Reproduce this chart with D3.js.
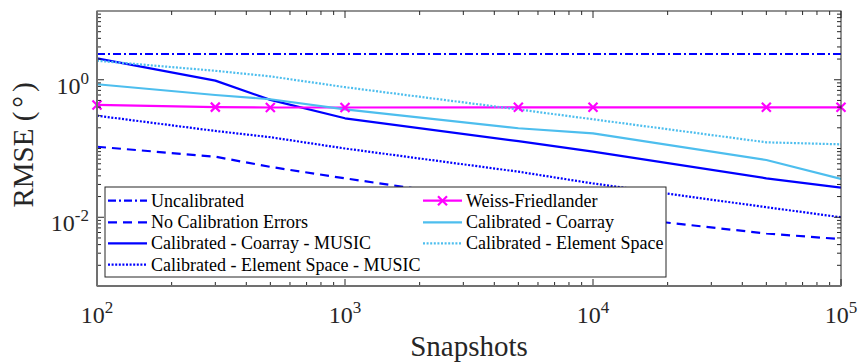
<!DOCTYPE html>
<html>
<head>
<meta charset="utf-8">
<script src="https://cdn.jsdelivr.net/npm/d3@7"></script>
<style>
  html, body { margin: 0; padding: 0; background: #fff; }
  svg { display: block; }
  svg text { font-family: 'Liberation Serif', 'DejaVu Serif', serif; }
</style>
</head>
<body>
<svg id="chart" width="861" height="362"></svg>
<script>
// ---------------- data ----------------
const snapshots = [100, 300, 500, 1000, 5000, 10000, 50000, 100000];
const uncalibrated        = [2.37, 2.37, 2.37, 2.37, 2.37, 2.37, 2.37, 2.37];
const noCalibrationErrors = [0.106, 0.076, 0.054, 0.0368, 0.0158, 0.011, 0.0058, 0.0048];
const coarrayMusic        = [2.05, 0.97, 0.51, 0.275, 0.128, 0.09, 0.0368, 0.027];
const elementSpaceMusic   = [0.30, 0.18, 0.146, 0.10, 0.046, 0.031, 0.014, 0.010];
const weissFriedlander    = [0.43, 0.40, 0.395, 0.395, 0.397, 0.397, 0.397, 0.397];
const calibratedCoarray   = [0.86, 0.60, 0.52, 0.37, 0.197, 0.166, 0.068, 0.036];
const calibratedElement   = [1.89, 1.35, 1.12, 0.78, 0.37, 0.266, 0.123, 0.115];

const xTickValues = [100, 1000, 10000, 100000];
const xTickExps   = ["2", "3", "4", "5"];
const yTickValues = [0.01, 1];
const yTickExps   = ["-2", "0"];

const seriesNames = [
  "Uncalibrated", "No Calibration Errors", "Calibrated - Coarray - MUSIC",
  "Calibrated - Element Space - MUSIC", "Weiss-Friedlander",
  "Calibrated - Coarray", "Calibrated - Element Space"
];
const seriesValues = [uncalibrated, noCalibrationErrors, coarrayMusic, elementSpaceMusic,
                      weissFriedlander, calibratedCoarray, calibratedElement];

// ---------------- styles ----------------
const BLUE = "#0000ff", MAG = "#ff00ff", CYAN = "#4dbeee";
const FONT = "'Liberation Serif', 'DejaVu Serif', serif";
const styles = [
  { color: BLUE, dash: "8,3,2,3", width: 2.2 },
  { color: BLUE, dash: "9,6", width: 2.2 },
  { color: BLUE, dash: null, width: 2.2 },
  { color: BLUE, dash: "2,1.6", width: 2.2 },
  { color: MAG, dash: null, width: 2.2, marker: true },
  { color: CYAN, dash: null, width: 2.2 },
  { color: CYAN, dash: "2,1.6", width: 2.2 }
];

// ---------------- layout ----------------
const L = 97, R = 841, T = 11, B = 286;
const svg = d3.select("#chart").attr("font-family", FONT);
const x = d3.scaleLog().domain([100, 100000]).range([L, R]);
const y = d3.scaleLog().domain([0.001, 10]).range([B, T]);

svg.append("defs").append("clipPath").attr("id", "clip")
  .append("rect").attr("x", L).attr("y", T).attr("width", R - L).attr("height", B - T);

// ---------------- series ----------------
const line = d3.line().x(d => x(d[0])).y(d => y(d[1]));
const g = svg.append("g").attr("clip-path", "url(#clip)");
const xMark = (cx, cy, s) => `M${cx - s},${cy - s}L${cx + s},${cy + s}M${cx - s},${cy + s}L${cx + s},${cy - s}`;

seriesValues.forEach((vals, i) => {
  const st = styles[i];
  const pts = snapshots.map((s, j) => [s, vals[j]]);
  g.append("path").attr("d", line(pts))
    .attr("fill", "none").attr("stroke", st.color).attr("stroke-width", st.width)
    .attr("stroke-dasharray", st.dash).attr("stroke-linejoin", "round");
  if (st.marker) {
    pts.forEach(p => {
      svg.append("path").attr("d", xMark(x(p[0]), y(p[1]), 4.5))
        .attr("stroke", st.color).attr("stroke-width", 2.2).attr("fill", "none");
    });
  }
});

// ---------------- axes box & ticks ----------------
const axisG = svg.append("g");
const AX = "#262626";
const xMinor = [];
for (let e = 2; e < 5; e++) for (let m = 2; m <= 9; m++) xMinor.push(m * Math.pow(10, e));
xMinor.forEach(v => {
  const px = x(v);
  axisG.append("line").attr("x1", px).attr("x2", px).attr("y1", B).attr("y2", B - 4).attr("stroke", AX).attr("stroke-width", 1);
  axisG.append("line").attr("x1", px).attr("x2", px).attr("y1", T).attr("y2", T + 4).attr("stroke", AX).attr("stroke-width", 1);
});
xTickValues.forEach(v => {
  const px = x(v);
  axisG.append("line").attr("x1", px).attr("x2", px).attr("y1", B).attr("y2", B - 7).attr("stroke", AX).attr("stroke-width", 1);
  axisG.append("line").attr("x1", px).attr("x2", px).attr("y1", T).attr("y2", T + 7).attr("stroke", AX).attr("stroke-width", 1);
});
const yMinor = [];
for (let e = -3; e < 1; e++) for (let m = 1; m <= 9; m++) {
  const v = m * Math.pow(10, e);
  if (!yTickValues.some(t => Math.abs(t - v) < 1e-12)) yMinor.push(v);
}
yMinor.forEach(v => {
  const py = y(v);
  axisG.append("line").attr("x1", L).attr("x2", L + 4).attr("y1", py).attr("y2", py).attr("stroke", AX).attr("stroke-width", 1);
  axisG.append("line").attr("x1", R).attr("x2", R - 4).attr("y1", py).attr("y2", py).attr("stroke", AX).attr("stroke-width", 1);
});
yTickValues.forEach(v => {
  const py = y(v);
  axisG.append("line").attr("x1", L).attr("x2", L + 7).attr("y1", py).attr("y2", py).attr("stroke", AX).attr("stroke-width", 1);
  axisG.append("line").attr("x1", R).attr("x2", R - 7).attr("y1", py).attr("y2", py).attr("stroke", AX).attr("stroke-width", 1);
});
axisG.append("rect").attr("x", L).attr("y", T).attr("width", R - L).attr("height", B - T)
  .attr("fill", "none").attr("stroke", AX).attr("stroke-width", 1);
axisG.append("line").attr("x1", L).attr("x2", L).attr("y1", T).attr("y2", B).attr("stroke", "#707070").attr("stroke-width", 2);
axisG.append("line").attr("x1", L).attr("x2", R).attr("y1", B).attr("y2", B).attr("stroke", "#707070").attr("stroke-width", 2);

// tick labels
xTickValues.forEach((v, i) => {
  const t = svg.append("text").attr("x", x(v)).attr("y", 323).attr("text-anchor", "middle")
    .attr("font-family", FONT).attr("font-size", 24).attr("fill", AX);
  t.append("tspan").text("10");
  t.append("tspan").attr("dy", -10).attr("font-size", 17).text(xTickExps[i]);
});
yTickValues.forEach((v, i) => {
  const t = svg.append("text").attr("x", 89).attr("y", y(v) + 14).attr("text-anchor", "end")
    .attr("font-family", FONT).attr("font-size", 24).attr("fill", AX);
  t.append("tspan").text("10");
  t.append("tspan").attr("dy", -10).attr("font-size", 17).text(yTickExps[i]);
});

// axis labels
svg.append("text").attr("x", 469).attr("y", 356).attr("text-anchor", "middle")
  .attr("font-family", FONT).attr("font-size", 29).attr("fill", AX).text("Snapshots");
const yl = svg.append("text").attr("transform", "translate(33,145) rotate(-90)").attr("text-anchor", "middle")
  .attr("font-family", FONT).attr("font-size", 29).attr("fill", AX);
yl.append("tspan").text("RMSE (");
yl.append("tspan").attr("dx", 4).text("°");
yl.append("tspan").attr("dx", 4).text(")");

// ---------------- legend ----------------
const lg = svg.append("g");
lg.append("rect").attr("x", 105).attr("y", 187).attr("width", 561).attr("height", 90)
  .attr("fill", "#fff").attr("stroke", AX).attr("stroke-width", 1);
const rowY = [200.7, 222.3, 243.3, 264.7];
const colX = [108, 423];
seriesNames.forEach((name, k) => {
  const col = k < 4 ? 0 : 1;
  const row = k < 4 ? k : k - 4;
  const st = styles[k];
  const x0 = colX[col], x1 = x0 + 39, yy = rowY[row];
  lg.append("line").attr("x1", x0).attr("x2", x1).attr("y1", yy).attr("y2", yy)
    .attr("stroke", st.color).attr("stroke-width", st.width).attr("stroke-dasharray", st.dash);
  if (st.marker) {
    lg.append("path").attr("d", xMark((x0 + x1) / 2, yy, 4.5)).attr("stroke", st.color)
      .attr("stroke-width", 2.2).attr("fill", "none");
  }
  lg.append("text").attr("x", x1 + 4).attr("y", yy + 6).attr("font-family", FONT)
    .attr("font-size", 18).attr("fill", "#000").text(name);
});
</script>
</body>
</html>
